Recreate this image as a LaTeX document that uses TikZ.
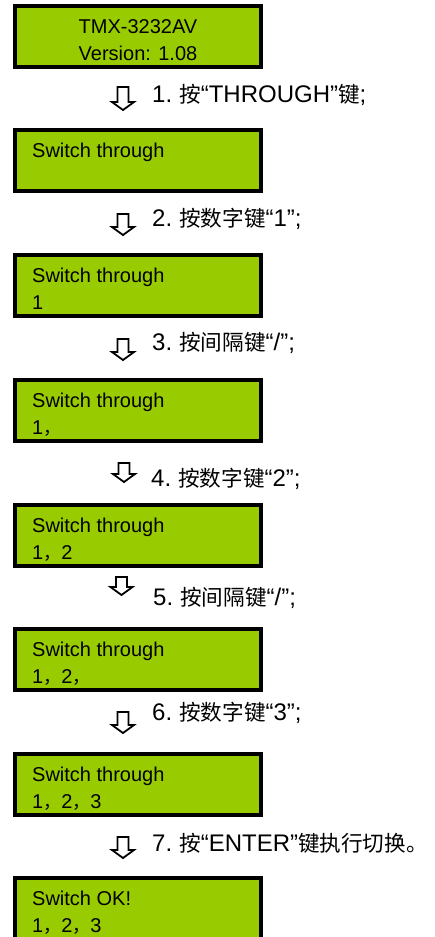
\documentclass[tikz,border=0pt]{standalone}
\usepackage{fontspec}
\setmainfont{Liberation Sans}
\newfontfamily\cjk[Scale=0.9]{Noto Sans CJK SC}
\definecolor{lcdgreen}{RGB}{153,204,0}
\tikzset{
  lcd/.style={draw=black,line width=4pt,fill=lcdgreen,minimum width=246pt,minimum height=61pt,inner sep=0pt},
  lcdtext/.style={inner sep=0pt,font=\fontsize{20}{24}\selectfont},
  steptext/.style={inner sep=0pt,anchor=base west,font=\fontsize{24}{28}\selectfont},
  hollow/.style={draw=black,line width=1.8pt,line join=miter}
}
\begin{document}
\begin{tikzpicture}[x=1pt,y=-1pt]
\useasboundingbox (0,0) rectangle (435,937);
\node[lcd] (lcd0) at (138,36.5) {};
\node[lcdtext,anchor=base] (lcd0a) at (138,33.5) {TMX-3232AV};
\node[lcdtext,anchor=base] (lcd0b) at (138,60) {Version: 1.08};
\foreach \i/\y/\la/\lb in {1/128/Switch through/{},
    2/253/Switch through/{1},
    3/378/Switch through/{1{\cjk ，}},
    4/503/Switch through/{1{\cjk ，}2},
    5/627/Switch through/{1{\cjk ，}2{\cjk ，}},
    6/752/Switch through/{1{\cjk ，}2{\cjk ，}3},
    7/876/Switch OK!/{1{\cjk ，}2{\cjk ，}3}}{
  \node[lcd] (lcd\i) at (138,\y+32.5) {};
  \node[lcdtext,anchor=base west] (lcd\i a) at (32,\y+29.5) {\la};
  \node[lcdtext,anchor=base west] (lcd\i b) at (32,\y+56) {\lb};
}
\foreach \x/\y/\l in {123/87/23,123/214/21,123/339/21,124/463/19,121.5/577/18,123/712/21,123/837/21}
  \draw[hollow] (\x-5.5,\y) -- (\x+5.5,\y) -- (\x+5.5,\y+\l-8) -- (\x+11,\y+\l-8)
    -- (\x,\y+\l) -- (\x-11,\y+\l-8) -- (\x-5.5,\y+\l-8) -- cycle;
\node[steptext] (step1) at (152,102) {1.\hspace{7pt}{\cjk 按}“THROUGH”{\cjk 键};};
\node[steptext] (step2) at (152,226.5) {2.\hspace{7pt}{\cjk 按数字键}“1”;};
\node[steptext] (step3) at (152,350.5) {3.\hspace{7pt}{\cjk 按间隔键}“/”;};
\node[steptext] (step4) at (151,486.5) {4.\hspace{7pt}{\cjk 按数字键}“2”;};
\node[steptext] (step5) at (153,605) {5.\hspace{7pt}{\cjk 按间隔键}“/”;};
\node[steptext] (step6) at (152,720) {6.\hspace{7pt}{\cjk 按数字键}“3”;};
\node[steptext] (step7) at (152,851) {7.\hspace{7pt}{\cjk 按}“ENTER”{\cjk 键执行切换。}};
\end{tikzpicture}
\end{document}
